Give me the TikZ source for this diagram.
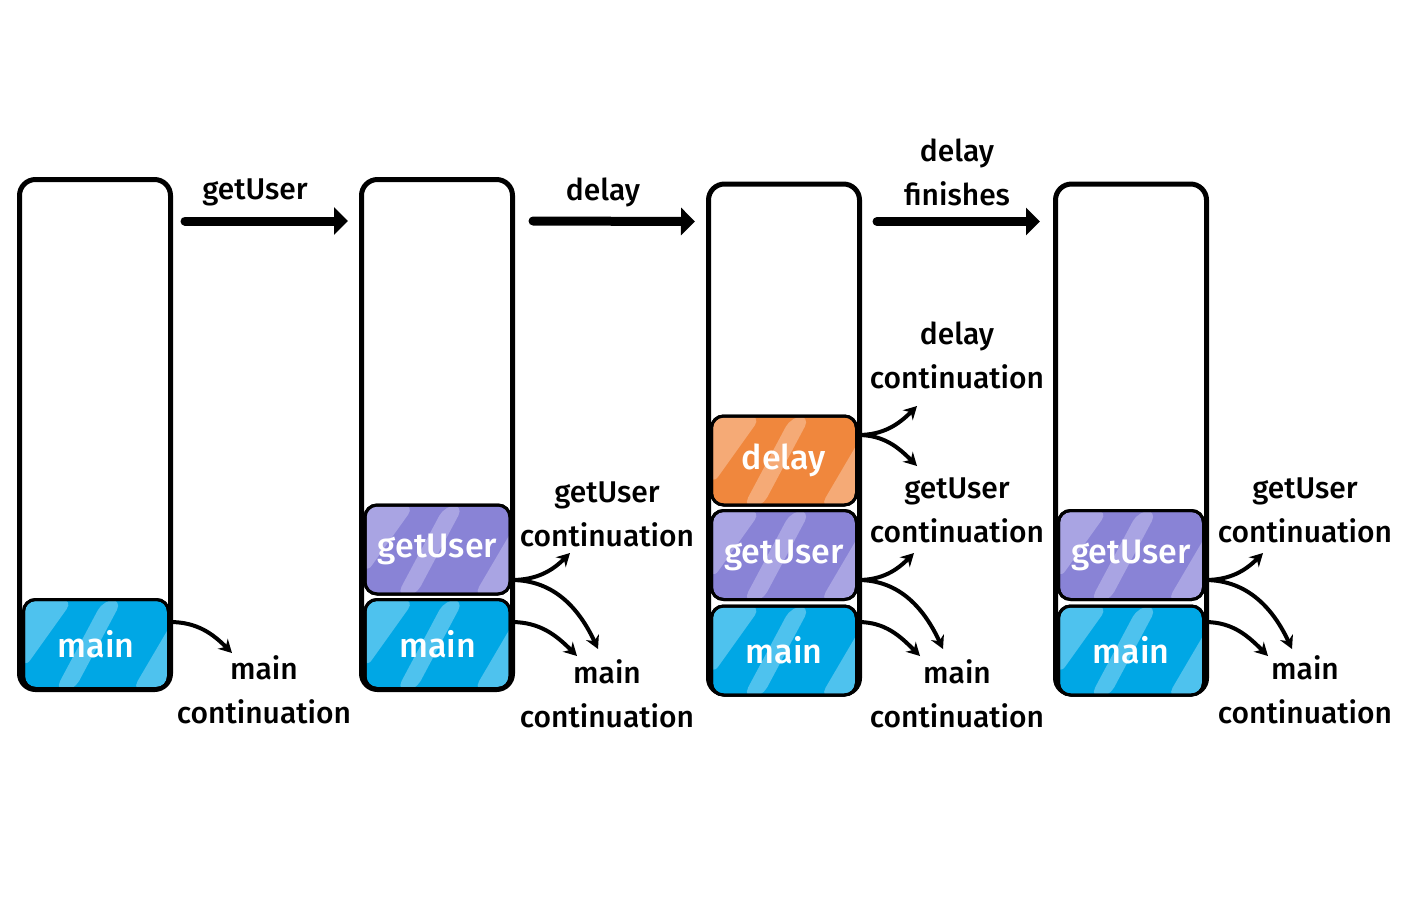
\documentclass[tikz,border=0pt]{standalone}
\usepackage{fontspec}
\setmainfont{Fira Sans}[UprightFont={* Medium}]
\usetikzlibrary{arrows.meta}

\definecolor{mainblue}{HTML}{00A7E5}
\definecolor{mainstripe}{HTML}{4EC2EE}
\definecolor{userpurple}{HTML}{8983D6}
\definecolor{userstripe}{HTML}{A9A4E3}
\definecolor{delayorange}{HTML}{F0873D}
\definecolor{delaystripe}{HTML}{F5AA76}

\newcommand{\callblock}[5]{% name, centre, fill, stripe, text
    \node[block, fill=#3, path picture={
            \coordinate (pp) at (path picture bounding box.north west);
            \fill[#4] (pp) -- ([shift={(50,0)}]pp) -- ([shift={(0,70)}]pp) -- cycle;
            \foreach \a/\b/\c/\d in {80/99/50/31, 162/194/140/108} {
                \fill[#4] ([shift={(\a,0)}]pp) -- ([shift={(\b,0)}]pp)
                    -- ([shift={(\c,92)}]pp) -- ([shift={(\d,92)}]pp) -- cycle;
            }
        }, postaction={draw=black, line width=1.5pt}] (#1) at (#2) {#5};
}

\begin{document}
\begin{tikzpicture}[x=0.5pt, y=-0.5pt,
        frame/.style={draw=black, line width=2.5pt, rounded corners=8pt,
            minimum width=75.5pt, minimum height=255pt, inner sep=0pt},
        block/.style={draw=black, line width=1.5pt, rounded corners=6pt,
            minimum width=72.5pt, minimum height=44.5pt, inner sep=0pt,
            text=white, font=\fontsize{17}{20}\selectfont},
        lab/.style={align=center, inner sep=0pt, font=\fontsize{15}{22}\selectfont},
        bigarrow/.style={line width=4.5pt, line cap=round,
            -{Triangle[length=7pt, width=13.5pt]}},
        contarrow/.style={line width=2pt, -{Stealth[length=6.5pt, width=7pt]}}]
        \useasboundingbox (0,0) rectangle (1401,901);

        % Stacks
        \node[frame] (s1) at (95,434.5) {};
        \node[frame] (s2) at (437,434.5) {};
        \node[frame] (s3) at (784,439) {};
        \node[frame] (s4) at (1131,439) {};

        % Frames
        \callblock{m1}{96,644}{mainblue}{mainstripe}{main}
        \callblock{gu2}{437.5,549.5}{userpurple}{userstripe}{getUser}
        \callblock{m2}{437.5,644}{mainblue}{mainstripe}{main}
        \callblock{dl3}{784,460.5}{delayorange}{delaystripe}{delay}
        \callblock{gu3}{784,555}{userpurple}{userstripe}{getUser}
        \callblock{m3}{784,650.5}{mainblue}{mainstripe}{main}
        \callblock{gu4}{1131,555}{userpurple}{userstripe}{getUser}
        \callblock{m4}{1131,650.5}{mainblue}{mainstripe}{main}

        % Steps
        \draw[bigarrow] ([shift={(12,44)}]s1.north east) -- ([shift={(-11,44)}]s2.north west);
        \draw[bigarrow] ([shift={(18,44)}]s2.north east) -- ([shift={(-11,40)}]s3.north west);
        \draw[bigarrow] ([shift={(15,40)}]s3.north east) -- ([shift={(-13,40)}]s4.north west);
        \node[lab] (t1) at (255,192) {getUser};
        \node[lab] (t2) at (603,192) {delay};
        \node[lab] (t3) at (957,172) {delay\\finishes};

        % Continuations, stack 1
        \node[lab] (mc1) at (264,690) {main\\continuation};
        \coordinate (mc1tip) at (232,653);
        \draw[contarrow] ([shift={(0,-22)}]m1.east) to[out=0, in=135] (mc1tip);

        % Continuations, stack 2
        \node[lab] (gc2) at (607,514) {getUser\\continuation};
        \node[lab] (mc2) at (607,694) {main\\continuation};
        \coordinate (gc2tip) at (570,553);
        \coordinate (gm2tip) at (598,649);
        \coordinate (mc2tip) at (577,656);
        \draw[contarrow] ([shift={(0,30.5)}]gu2.east) to[out=0, in=225] (gc2tip);
        \draw[contarrow] ([shift={(0,30.5)}]gu2.east) to[out=0, in=115] (gm2tip);
        \draw[contarrow] ([shift={(0,-22)}]m2.east) to[out=0, in=135] (mc2tip);

        % Continuations, stack 3
        \node[lab] (dc3) at (957,355) {delay\\continuation};
        \node[lab] (gc3) at (957,510) {getUser\\continuation};
        \node[lab] (mc3) at (957,694) {main\\continuation};
        \coordinate (dc3tip) at (917,406);
        \coordinate (dg3tip) at (917,466);
        \coordinate (gc3tip) at (914,553);
        \coordinate (gm3tip) at (943,649);
        \coordinate (mc3tip) at (920,656);
        \draw[contarrow] ([shift={(0,-25.5)}]dl3.east) to[out=0, in=225] (dc3tip);
        \draw[contarrow] ([shift={(0,-25.5)}]dl3.east) to[out=0, in=135] (dg3tip);
        \draw[contarrow] ([shift={(0,25)}]gu3.east) to[out=0, in=225] (gc3tip);
        \draw[contarrow] ([shift={(0,25)}]gu3.east) to[out=0, in=115] (gm3tip);
        \draw[contarrow] ([shift={(0,-28.5)}]m3.east) to[out=0, in=135] (mc3tip);

        % Continuations, stack 4
        \node[lab] (gc4) at (1305,510) {getUser\\continuation};
        \node[lab] (mc4) at (1305,690) {main\\continuation};
        \coordinate (gc4tip) at (1263,553);
        \coordinate (gm4tip) at (1292,649);
        \coordinate (mc4tip) at (1268,656);
        \draw[contarrow] ([shift={(0,25)}]gu4.east) to[out=0, in=225] (gc4tip);
        \draw[contarrow] ([shift={(0,25)}]gu4.east) to[out=0, in=115] (gm4tip);
        \draw[contarrow] ([shift={(0,-28.5)}]m4.east) to[out=0, in=135] (mc4tip);
    \end{tikzpicture}
\end{document}
